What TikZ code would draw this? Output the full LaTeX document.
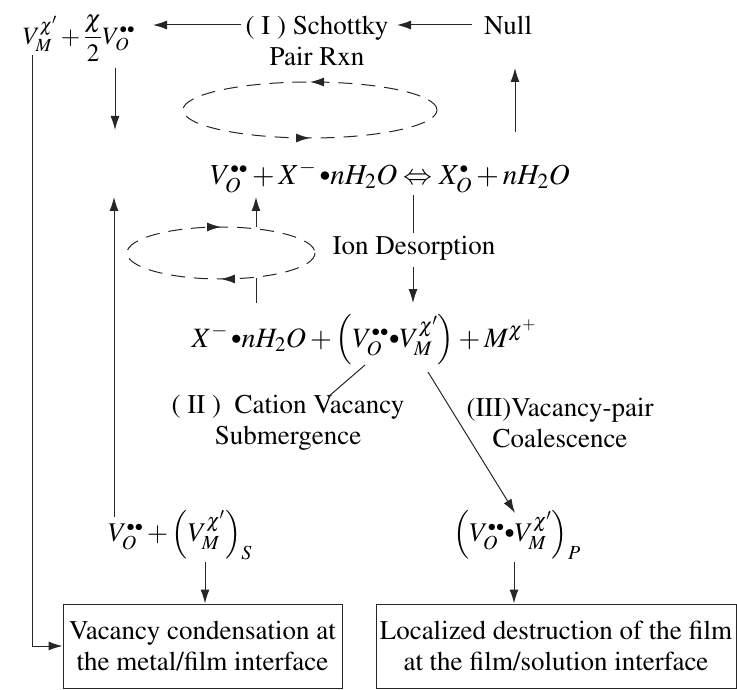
\documentclass[tikz,border=0pt]{standalone}
\usepackage[T1]{fontenc}
\usepackage{mathptmx}
\usetikzlibrary{arrows.meta,decorations.markings}
\newcommand{\twodot}{\scalebox{0.6}{$\bullet\bullet$}}
\newcommand{\onedot}{\scalebox{0.6}{$\bullet$}}
\newcommand{\pairdot}{\mathord{\vcenter{\hbox{\scalebox{0.75}{$\bullet$}}}}}

\begin{document}
\begin{tikzpicture}[x=1pt,y=-1pt,
  every node/.style={font=\fontsize{27}{31}\selectfont,inner sep=0pt},
  arr/.style={draw=black!85,line width=1pt,-{Latex[length=14pt,width=9pt]}},
  ln/.style={draw=black!85,line width=1pt},
  cyc/.style={draw=black!85,line width=1pt,dash pattern=on 14pt off 9pt,
    postaction={decorate},
    decoration={markings,
      mark=at position 0.25 with {\arrow{Latex[length=14pt,width=9pt]}},
      mark=at position 0.75 with {\arrow{Latex[length=14pt,width=9pt]}}}},
  box/.style={draw=black!85,line width=1pt,align=center,minimum height=84pt}]
\useasboundingbox (0,0) rectangle (737,690);
% reactions
\node[font=\fontsize{25}{29}\selectfont] (topf) at (79,38) {$V_M^{\chi'}+\displaystyle\frac{\chi}{2}V_O^{\twodot}$};
\node[align=center] (schottky) at (317,41) {( I ) Schottky\\Pair Rxn};
\node (null) at (508,25) {Null};
\node[font=\fontsize{29}{33}\selectfont] (eqa) at (390,177) {$V_O^{\twodot}+X^{-}\,{\pairdot}nH_2O\Leftrightarrow X_O^{\onedot}+nH_2O$};
\node (iondes) at (414,248) {Ion Desorption};
\node[font=\fontsize{28}{32}\selectfont] (eqb) at (364,340) {$X^{-}\,{\pairdot}nH_2O+\left(V_O^{\twodot}{\pairdot}V_M^{\chi'}\right)+M^{\chi^{+}}$};
\node[align=center] (cation) at (288,423) {( II )\ \ Cation Vacancy\\Submergence};
\node[align=center] (coal) at (560,423) {(III)Vacancy-pair\\Coalescence};
\node (vs) at (180,535) {$V_O^{\twodot}+\left(V_M^{\chi'}\right)_S$};
\node (vp) at (517,535) {$\left(V_O^{\twodot}{\pairdot}V_M^{\chi'}\right)_P$};
\node[box,minimum width=279pt] (boxl) at (202.5,646) {Vacancy condensation at\\the metal/film interface};
\node[box,minimum width=360pt] (boxr) at (556,646) {Localized destruction of the film\\at the film/solution interface};
% dashed cycles
\coordinate (cyca) at (310,110);
\coordinate (cycb) at (221,253);
\draw[cyc] (cyca) ++(127,0) arc[start angle=0,end angle=-360,x radius=127,y radius=28];
\draw[cyc] (cycb) ++(94,0) arc[start angle=0,end angle=360,x radius=94,y radius=26];
% connector ends
\coordinate (schw) at (241,25);
\coordinate (tope) at (153,25);
\coordinate (nullw) at (472,25);
\coordinate (sche) at (397,25);
\coordinate (nullb) at (515,68);
\coordinate (upb) at (515,132);
\coordinate (topb) at (115,68);
\coordinate (downe) at (115,130);
\coordinate (vsn) at (114,517);
\coordinate (upe) at (114,197);
\coordinate (fart) at (32,55);
\coordinate (cyct) at (256,227);
\coordinate (cyctt) at (256,197);
\coordinate (cycbt) at (256,278);
\coordinate (cycbb) at (256,303);
\coordinate (dest) at (413,195);
\coordinate (desb) at (413,233);
\coordinate (desc) at (413,267);
\coordinate (desd) at (413,303);
\coordinate (subt) at (365,365);
\coordinate (subb) at (328,397);
\coordinate (coat) at (428,372);
\coordinate (vpn) at (515,513);
\coordinate (vss) at (205,562);
\coordinate (vps) at (514,562);
% connectors
\draw[arr] (schw) -- (tope);
\draw[arr] (nullw) -- (sche);
\draw[arr] (upb) -- (nullb);
\draw[arr] (topb) -- (downe);
\draw[arr] (vsn) -- (upe);
\draw[arr] (fart) |- (boxl.west);
\draw[arr] (cyct) -- (cyctt);
\draw[ln] (cycbt) -- (cycbb);
\draw[ln] (dest) -- (desb);
\draw[arr] (desc) -- (desd);
\draw[ln] (subt) -- (subb);
\draw[arr] (coat) -- (vpn);
\draw[arr] (vss) -- (vss |- boxl.north);
\draw[arr] (vps) -- (vps |- boxr.north);
\end{tikzpicture}
\end{document}
